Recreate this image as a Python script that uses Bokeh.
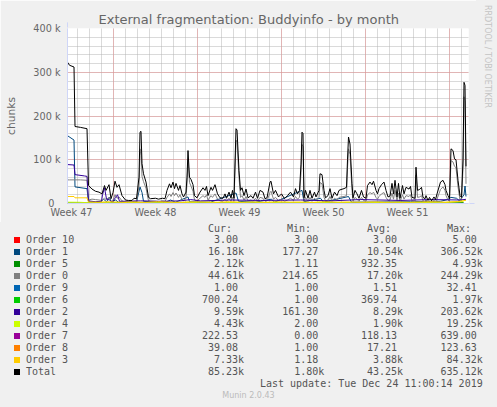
import numpy as np
from bokeh.plotting import figure
from bokeh.models import Range1d, FixedTicker, Grid, Arrow, NormalHead, Div
from bokeh.layouts import column, row
from bokeh.embed import file_html
from bokeh.resources import INLINE

# ---------------- data ----------------
# time axis in hours since Mon 18 Nov 2019 00:00 (start of ISO week 47)
T_START = 76          # Thu 21 Nov 04:00 = left edge of the graph
T_END = 878           # right edge of the graph
week_labels = ["Week 47", "Week 48", "Week 49", "Week 50", "Week 51"]
week_label_hours = [84, 252, 420, 588, 756]
week_start_hours = [168, 336, 504, 672, 840]
y_ticks = [0, 100000, 200000, 300000, 400000]
y_tick_labels = ["0\u00a0\u00a0", "100 k", "200 k", "300 k", "400 k"]

# Total and Order 0 (hours since graph start, values in thousands)
total_h = [0, 4, 13, 15, 26, 39, 42, 49, 56, 63,
           69, 74, 77, 83, 87, 91, 95, 99, 103, 109,
           116, 122, 129, 133, 138, 143, 145, 147, 149, 152,
           157, 162, 166, 176, 182, 190, 195, 199, 204, 207,
           211, 214, 217, 222, 225, 229, 232, 237, 239, 241,
           244, 247, 251, 254, 259, 265, 271, 275, 278, 281,
           287, 290, 295, 300, 305, 311, 315, 318, 323, 327,
           330, 333, 337, 339, 343, 346, 349, 353, 357, 361,
           367, 371, 376, 380, 385, 391, 395, 399, 405, 407,
           412, 416, 422, 428, 434, 440, 446, 452, 456, 460,
           464, 467, 469, 471, 473, 476, 481, 485, 489, 494,
           497, 503, 505, 509, 513, 516, 521, 525, 529, 534,
           539, 543, 547, 553, 558, 560, 562, 565, 569, 571,
           575, 579, 583, 588, 592, 597, 600, 605, 609, 612,
           617, 620, 623, 628, 633, 637, 641, 645, 649, 652,
           655, 659, 662, 665, 670, 673, 677, 683, 686, 689,
           695, 697, 700, 704, 708, 711, 715, 717, 721, 724,
           728, 733, 736, 739, 746, 751, 755, 757, 761, 764,
           767, 771, 774, 777, 781, 785, 788, 791, 793, 795,
           797]
total_k = [323, 316, 312, 176, 174, 171, 41, 33, 28, 26,
           22, 41, 30, 43, 11, 25, 51, 37, 43, 18,
           8, 7, 7, 12, 11, 60, 163, 165, 91, 68,
           49, 14, 11, 12, 10, 12, 11, 30, 45, 36,
           49, 34, 46, 30, 41, 22, 15, 26, 60, 121,
           60, 55, 43, 18, 13, 26, 36, 30, 39, 18,
           37, 30, 43, 22, 13, 12, 22, 12, 26, 12,
           30, 12, 171, 168, 75, 30, 36, 18, 33, 13,
           18, 12, 26, 12, 30, 26, 11, 13, 49, 51,
           22, 30, 15, 22, 11, 18, 26, 15, 34, 22,
           30, 90, 163, 160, 13, 30, 12, 30, 12, 26,
           15, 30, 68, 66, 30, 13, 18, 34, 12, 26,
           18, 30, 32, 34, 37, 100, 152, 136, 46, 13,
           30, 22, 12, 30, 15, 12, 41, 49, 43, 51,
           30, 22, 34, 43, 49, 30, 15, 17, 46, 22,
           53, 15, 46, 12, 41, 22, 37, 33, 39, 14,
           12, 83, 30, 32, 37, 14, 11, 18, 7, 14,
           6, 15, 9, 22, 49, 53, 43, 30, 18, 11,
           125, 121, 102, 100, 53, 18, 14, 100, 277, 270,
           85]
order0_k = [54, 54, 54, 54, 54, 53, 8, 10, 9, 8,
            7, 12, 9, 14, 4, 8, 20, 12, 15, 6,
            3, 3, 3, 5, 5, 40, 110, 125, 62, 50,
            35, 6, 5, 5, 4, 6, 5, 14, 22, 16,
            25, 18, 24, 14, 20, 9, 6, 12, 45, 100,
            48, 40, 28, 8, 6, 12, 18, 14, 20, 8,
            18, 14, 22, 10, 6, 5, 10, 5, 12, 5,
            14, 5, 145, 140, 60, 14, 18, 8, 16, 6,
            8, 5, 12, 5, 14, 12, 5, 6, 25, 28,
            10, 14, 7, 10, 5, 8, 12, 7, 16, 10,
            14, 70, 135, 130, 6, 14, 5, 14, 5, 12,
            7, 14, 48, 45, 14, 6, 8, 16, 5, 12,
            8, 14, 15, 16, 18, 80, 125, 112, 30, 6,
            14, 10, 5, 14, 7, 5, 20, 25, 22, 26,
            14, 10, 16, 22, 25, 14, 7, 8, 24, 10,
            30, 7, 24, 5, 20, 10, 18, 16, 20, 6,
            5, 65, 14, 15, 18, 6, 5, 8, 3, 6,
            3, 7, 4, 10, 32, 38, 30, 18, 8, 5,
            98, 95, 85, 82, 38, 8, 6, 80, 244, 235,
            45]

order1_h = [0, 13, 15, 39, 42, 66, 72, 78, 84, 88, 96, 102, 138, 145, 149, 152,
            196, 206, 216, 241, 244, 286, 337, 342, 376, 408, 414, 469, 473, 506,
            512, 562, 568, 686, 746, 760, 767, 778, 784, 793, 795, 797]
order1_k = [155, 145, 38, 34, 4, 3, 10, 4, 14, 3, 8, 3, 3, 38, 25, 5,
            3, 8, 3, 15, 4, 3, 24, 5, 3, 10, 3, 30, 4, 12,
            3, 16, 3, 4, 5, 9, 14, 12, 6, 20, 40, 16]

order2_h = [0, 13, 15, 34, 39, 42, 56, 68, 70, 74, 78, 84, 90, 96, 100,
            104, 146, 186, 226, 246, 266, 326, 386, 466, 526, 586, 666, 726, 786, 797]
order2_k = [89, 88, 66, 63, 62, 6, 4, 5, 20, 36, 10, 8, 3, 14, 20,
            5, 6, 5, 6, 9, 6, 8, 7, 8, 6, 9, 7, 9, 8, 9.6]

order3_h = [0, 13, 15, 39, 42, 60, 84, 108, 132, 156, 180, 204, 228, 252, 276,
            300, 324, 348, 372, 396, 420, 444, 468, 492, 516, 540, 564, 588, 612,
            636, 660, 684, 708, 732, 756, 780, 797]
order3_k = [16, 16, 13, 13, 3.5, 3.0, 4.0, 2.8, 3.5, 2.6, 4.2, 3.1, 2.7, 3.8, 3.3,
            2.9, 4.1, 3.0, 3.6, 2.8, 3.9, 3.2, 3.4, 2.7, 4.0, 3.1, 3.5, 2.9, 3.7,
            3.0, 3.3, 2.8, 3.6, 3.9, 3.1, 4.5, 7.3]

# small orders, one reading per day
daily_h = [0, 24, 48, 72, 96, 120, 144, 168, 192, 216, 240, 264, 288, 312, 336, 360, 384,
           408, 432, 456, 480, 504, 528, 552, 576, 600, 624, 648, 672, 696, 720, 744, 768, 792]
order4_k = [3.0, 2.8, 1.5, 2.0, 1.2, 2.5, 1.8, 1.0, 2.2, 1.6, 3.0, 1.4, 2.1, 1.7, 2.6, 1.2, 1.9,
            2.4, 1.3, 2.0, 1.6, 2.8, 1.5, 2.2, 1.1, 1.9, 2.5, 1.4, 2.0, 1.7, 2.3, 1.5, 3.2, 4.4]
order5_k = [1.2, 1.0, 0.6, 0.9, 1.4, 0.5, 1.1, 0.8, 0.7, 1.3, 0.6, 1.0, 0.9, 1.5, 0.7, 0.8, 1.2,
            0.6, 0.9, 1.1, 0.5, 1.0, 1.4, 0.8, 0.6, 1.2, 0.9, 0.7, 1.1, 0.8, 1.3, 0.6, 1.5, 2.1]
order6_k = [0.4, 0.3, 0.5, 0.2, 0.4, 0.6, 0.3, 0.4, 0.2, 0.5, 0.3, 0.4, 0.6, 0.2, 0.4, 0.3, 0.5,
            0.3, 0.4, 0.2, 0.5, 0.4, 0.3, 0.6, 0.2, 0.4, 0.3, 0.5, 0.4, 0.3, 0.2, 0.5, 0.4, 0.7]
order7_u = [120, 90, 150, 80, 130, 100, 160, 70, 110, 140, 90, 120, 100, 150, 80, 130, 110,
            90, 140, 100, 120, 80, 150, 110, 90, 130, 100, 140, 120, 90, 110, 150, 130, 220]
order8_u = [20, 15, 18, 22, 12, 17, 25, 14, 16, 19, 13, 21, 18, 15, 17, 20, 14,
            16, 22, 18, 15, 19, 13, 17, 20, 16, 18, 14, 21, 17, 15, 19, 16, 39]
order9_u = [2, 1, 1, 1, 2, 1, 1, 1, 3, 1, 1, 2, 1, 1, 1, 2, 1,
            1, 1, 1, 2, 1, 1, 3, 1, 1, 1, 2, 1, 1, 1, 1, 2, 1]
order10_u = [3, 3, 3, 3, 3, 3, 3, 3, 3, 3, 3, 3, 3, 3, 3, 3, 3,
             3, 3, 3, 3, 3, 3, 3, 3, 3, 3, 3, 3, 3, 3, 3, 3, 3]

# legend
names = ["Order 10", "Order 1", "Order 5", "Order 0", "Order 9", "Order 6",
         "Order 2", "Order 4", "Order 7", "Order 8", "Order 3", "Total"]
colors = ["#FF0000", "#00487D", "#008F00", "#808080", "#0066B3", "#00CC00",
          "#330099", "#CCFF00", "#990099", "#FF8000", "#FFCC00", "#000000"]
cur = ["3.00", "16.18k", "2.12k", "44.61k", "1.00", "700.24",
       "9.59k", "4.43k", "222.53", "39.08", "7.33k", "85.23k"]
mins = ["3.00", "177.27", "1.11", "214.65", "1.00", "1.00",
        "161.30", "2.00", "0.00", "1.00", "1.18", "1.80k"]
avgs = ["3.00", "10.54k", "932.35", "17.20k", "1.51", "369.74",
        "8.29k", "1.90k", "118.13", "17.21", "3.88k", "43.25k"]
maxs = ["5.00", "306.52k", "4.93k", "244.29k", "32.41", "1.97k",
        "203.62k", "19.25k", "639.00", "123.63", "84.32k", "635.12k"]
headers = ["Cur:", "Min:", "Avg:", "Max:"]
last_update = "Last update: Tue Dec 24 11:00:14 2019"
version = "Munin 2.0.43"
title = "External fragmentation: Buddyinfo - by month"
watermark = "RRDTOOL / TOBI OETIKER"


def k(vals):
    return [v * 1000 for v in vals]


series = {
    "Order 10": (daily_h, order10_u),
    "Order 1": (order1_h, k(order1_k)),
    "Order 5": (daily_h, k(order5_k)),
    "Order 0": (total_h, k(order0_k)),
    "Order 9": (daily_h, order9_u),
    "Order 6": (daily_h, k(order6_k)),
    "Order 2": (order2_h, k(order2_k)),
    "Order 4": (daily_h, k(order4_k)),
    "Order 7": (daily_h, order7_u),
    "Order 8": (daily_h, order8_u),
    "Order 3": (order3_h, k(order3_k)),
    "Total": (total_h, k(total_k)),
}

FONT = "DejaVu Sans"
MONO = "DejaVu Sans Mono"
TXT = "#666666"
LEG = "#555555"
AXIS_C = "#CFD6F8"
BG = "#F0F0F0"
W = 497
P_W = 476
WM_W = W - P_W
TOP_H = 222
LEG_H = 185

# ---------------- graph ----------------
p = figure(width=P_W, height=TOP_H, x_range=Range1d(T_START, T_END), y_range=Range1d(0, 400000),
           output_backend="svg", toolbar_location=None,
           min_border_left=67, min_border_right=P_W - 468, min_border_top=28, min_border_bottom=19,
           background_fill_color="white", border_fill_color=BG, outline_line_color=None)
p.xgrid.grid_line_color = None
p.ygrid.grid_line_color = None

p.title.text = title
p.title.align = "left"
p.title.offset = 31
p.title.standoff = 3
p.title.text_font = FONT
p.title.text_font_size = "13px"
p.title.text_font_style = "normal"
p.title.text_color = TXT

minor_x = list(range(96, T_END, 24))
minor_y = list(range(20000, 400001, 20000))
p.add_layout(Grid(dimension=0, ticker=FixedTicker(ticks=minor_x), grid_line_color="#B4B4B4",
                  grid_line_dash="1 1", grid_line_width=1))
p.add_layout(Grid(dimension=1, ticker=FixedTicker(ticks=minor_y), grid_line_color="#B4B4B4",
                  grid_line_dash="1 1", grid_line_width=1))
p.add_layout(Grid(dimension=0, ticker=FixedTicker(ticks=week_start_hours), grid_line_color="#E89090",
                  grid_line_dash="1 1", grid_line_width=1))
p.add_layout(Grid(dimension=1, ticker=FixedTicker(ticks=y_ticks[1:]), grid_line_color="#E89090",
                  grid_line_dash="1 1", grid_line_width=1))

for name, color in zip(names, colors):
    hrs, vals = series[name]
    p.line([T_START + h for h in hrs], vals, line_color=color, line_width=1)

for ax in (p.xaxis[0], p.yaxis[0]):
    ax.major_tick_line_color = None
    ax.minor_tick_line_color = None
    ax.major_tick_out = 0
    ax.major_tick_in = 0
    ax.minor_tick_out = 0
    ax.minor_tick_in = 0
    ax.axis_line_color = AXIS_C
    ax.major_label_text_font = FONT
    ax.major_label_text_font_size = "9.7px"
    ax.major_label_text_color = TXT

xa = p.xaxis[0]
xa.ticker = FixedTicker(ticks=week_label_hours)
xa.major_label_overrides = {t: lab for t, lab in zip(week_label_hours, week_labels)}
xa.major_label_standoff = 3

ya = p.yaxis[0]
ya.ticker = FixedTicker(ticks=y_ticks)
ya.major_label_overrides = {t: lab for t, lab in zip(y_ticks, y_tick_labels)}
ya.major_label_standoff = 7
ya.axis_label = "chunks"
ya.axis_label_text_font = FONT
ya.axis_label_text_font_size = "10.7px"
ya.axis_label_text_font_style = "normal"
ya.axis_label_text_color = TXT
ya.axis_label_standoff = 12

p.add_layout(Arrow(end=NormalHead(size=5, fill_color=AXIS_C, line_color=AXIS_C),
                   x_start=T_START, y_start=0, x_end=T_START, y_end=414000,
                   line_color=AXIS_C, line_width=1))
p.add_layout(Arrow(end=NormalHead(size=5, fill_color=AXIS_C, line_color=AXIS_C),
                   x_start=T_START, y_start=0, x_end=T_END + 12, y_end=0,
                   line_color=AXIS_C, line_width=1))

# rrdtool watermark, written top-to-bottom at the right edge
wm_html = ('<div style="position:relative;width:%dpx;height:%dpx;background:%s;overflow:hidden;">'
           '<span style="position:absolute;left:%dpx;top:5px;writing-mode:vertical-rl;'
           'white-space:pre;font-family:\'%s\';font-size:8px;line-height:9px;color:#C4C4C4;">%s</span></div>'
           % (WM_W, TOP_H, BG, 487 - P_W - 4, FONT, watermark))
wm = Div(text=wm_html, width=WM_W, height=TOP_H, margin=0, styles={"background-color": BG})

# ---------------- legend (rrdtool-style text block) ----------------
def span(x, yc, txt, align="left", color=LEG, font=MONO, size="10px"):
    if align == "left":
        pos = "left:%.1fpx;" % x
    elif align == "right":
        pos = "right:%.1fpx;" % (W - x)
    else:
        pos = "left:%.1fpx;width:200px;text-align:center;" % (x - 100)
    return ('<span style="position:absolute;%stop:%.1fpx;line-height:12px;white-space:pre;'
            'font-family:\'%s\';font-size:%s;color:%s;">%s</span>' % (pos, yc - 6, font, size, color, txt))


parts = []
row_y = [18.0 + 12 * i for i in range(len(names))]
for x, h in zip([208, 287, 367, 447], headers):
    parts.append(span(x, 6.8, h))
field_end = [238, 318.3, 397, 476.7]
for i, (nm, col_c) in enumerate(zip(names, colors)):
    y = row_y[i]
    parts.append('<span style="position:absolute;left:14px;top:%.1fpx;width:6px;height:6px;'
                 'background:%s;"></span>' % (y - 3, col_c))
    parts.append(span(26, y, nm))
    for col, fe in zip([cur, mins, avgs, maxs], field_end):
        s = col[i]
        if s.endswith("k"):
            parts.append(span(fe, y, s[:-1], align="right"))
            parts.append(span(fe, y, "k"))
        else:
            parts.append(span(fe, y, s, align="right"))
parts.append(span(482.7, 161.9, last_update, align="right"))
parts.append(span(248.5, 174, version, align="center", color="#BBBBBB", font=FONT, size="8px"))

legend_html = ('<div style="position:relative;width:%dpx;height:%dpx;background:%s;overflow:hidden;">%s</div>'
               % (W, LEG_H, BG, "".join(parts)))
legend = Div(text=legend_html, width=W, height=LEG_H, margin=0,
             styles={"background-color": BG})

layout = column(row(p, wm, spacing=0), legend, spacing=0)
open("out.html", "w").write(file_html(layout, INLINE))
